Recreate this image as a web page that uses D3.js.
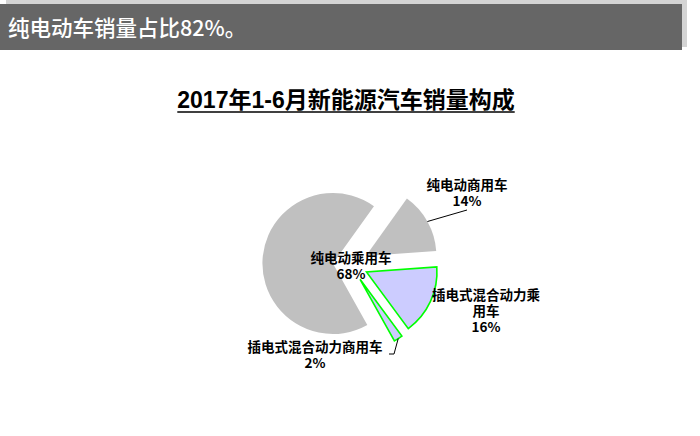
<!DOCTYPE html>
<html>
<head>
<meta charset="utf-8">
<script src="https://cdn.jsdelivr.net/npm/d3@7"></script>
<style>
  html, body { margin: 0; padding: 0; background: #fff; }
  svg { display: block; }
  .lbl { font-family: "Noto Sans CJK SC", sans-serif; font-weight: bold; font-size: 13.5px; fill: #000; }
</style>
</head>
<body>
<svg id="chart" width="700" height="436"></svg>
<script>
  // Data.
  const headline = "纯电动车销量占比82%。";
  const title = "2017年1-6月新能源汽车销量构成";
  const categories = ["纯电动商用车", "插电式混合动力乘用车", "插电式混合动力商用车", "纯电动乘用车"];
  const shares = [14, 16, 2, 68];
  // how each category label wraps in the reference
  const labelLines = [["纯电动商用车"], ["插电式混合动力乘", "用车"], ["插电式混合动力商用车"], ["纯电动乘用车"]];

  const W = 700, H = 436;
  const cx = 350.5, cy = 264.5, R = 70.5, explode = 17.6;
  const startDeg = 35.6;
  const fills = ["#c0c0c0", "#ccccff", "#ccccff", "#c0c0c0"];
  const strokes = [null, "#00ff00", "#00ff00", null];
  // label block centre relative to pie centre, and leader elbows (null = no leader)
  const labelOffset = [[116.5, -72.5], [135.5, 45.5], [-35.5, 89.5], [0.5, 0.5]];
  const leaders = [[[116.5, -54.5]], null, [[43.5, 89.5], [38.5, 89.5]], null];

  const svg = d3.select("#chart");

  // headline bar with its offset shadow
  svg.append("rect").attr("x", 6).attr("y", 0).attr("width", 681).attr("height", 47).attr("fill", "#d4d4d4");
  svg.append("rect").attr("x", 0).attr("y", 4).attr("width", 682).attr("height", 46).attr("fill", "#666666");
  svg.append("text")
    .attr("x", 8).attr("y", 35.5)
    .attr("fill", "#fff")
    .style("font-family", "'Noto Sans CJK SC', sans-serif")
    .style("font-size", "21.5px")
    .style("font-weight", 500)
    .text(headline);

  // underlined chart title
  const t = svg.append("text")
    .attr("x", 346).attr("y", 108)
    .attr("text-anchor", "middle")
    .style("font-family", "'Liberation Sans', 'Noto Sans CJK SC', sans-serif")
    .style("font-size", "23px")
    .style("font-weight", "bold")
    .text(title);
  const tw = t.node().getComputedTextLength();
  svg.append("line")
    .attr("x1", 346 - tw / 2).attr("x2", 346 + tw / 2)
    .attr("y1", 112).attr("y2", 112)
    .attr("stroke", "#000").attr("stroke-width", 1.5);

  // exploded pie
  const rad = Math.PI / 180;
  const pie = d3.pie().sort(null)
    .startAngle(startDeg * rad)
    .endAngle((startDeg + 360) * rad);
  const arcs = pie(shares);
  const arc = d3.arc().innerRadius(0).outerRadius(R);

  const g = svg.append("g").attr("transform", `translate(${cx},${cy})`);

  const shift = (d) => {
    const a = (d.startAngle + d.endAngle) / 2;
    return [explode * Math.sin(a), -explode * Math.cos(a)];
  };

  g.selectAll("path.slice")
    .data(arcs)
    .join("path")
    .attr("class", "slice")
    .attr("transform", (d) => `translate(${shift(d)})`)
    .attr("d", arc)
    .attr("fill", (d, i) => fills[i])
    .attr("stroke", (d, i) => strokes[i] || "none")
    .attr("stroke-width", 1.6)
    .attr("stroke-linejoin", "miter");

  // leader lines from the outer arc midpoint
  arcs.forEach((d, i) => {
    if (!leaders[i]) return;
    const a = (d.startAngle + d.endAngle) / 2;
    const s = shift(d);
    const p0 = [s[0] + R * Math.sin(a), s[1] - R * Math.cos(a)];
    g.append("path")
      .attr("d", d3.line()([p0].concat(leaders[i])))
      .attr("fill", "none")
      .attr("stroke", "#000")
      .attr("stroke-width", 1);
  });

  // labels: category lines then the share
  arcs.forEach((d, i) => {
    const lines = labelLines[i].concat([shares[i] + "%"]);
    const lh = 16;
    const [ox, oy] = labelOffset[i];
    const txt = g.append("text")
      .attr("class", "lbl")
      .attr("text-anchor", "middle")
      .attr("dominant-baseline", "central");
    lines.forEach((ln, k) => {
      txt.append("tspan")
        .attr("x", ox)
        .attr("y", oy + (k - (lines.length - 1) / 2) * lh)
        .text(ln);
    });
  });
</script>
</body>
</html>
